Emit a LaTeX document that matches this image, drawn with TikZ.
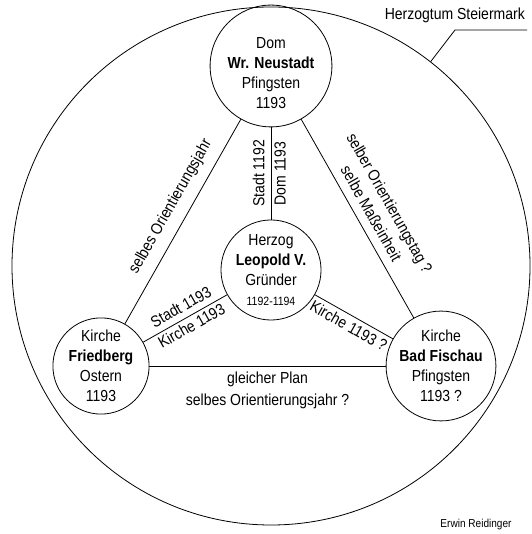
\documentclass[tikz,border=0pt]{standalone}
\usepackage{fontspec}
\setmainfont{Liberation Sans}[FakeStretch=0.875]

\begin{document}
\begin{tikzpicture}[
                place/.style={
                    circle,
                    draw,
                    line width=0.8pt,
                    minimum size=93pt,
                    inner sep=0pt,
                    align=center,
                    font=\fontsize{16}{20}\selectfont
                },
                link/.style={
                    line width=0.8pt
                },
                note/.style={
                    sloped,
                    align=center,
                    inner sep=3pt,
                    font=\fontsize{16}{21}\selectfont
                },
                x=1pt,
                y=1pt
            ]

        \useasboundingbox (0,0) rectangle (531,534);

        % Herzogtum
        \node[circle, draw, line width=0.8pt, minimum size=518pt, inner sep=0pt]
            (land) at (271,268) {};

        % Orte
        \node[place] (wn) at (271,468)
            {\rule{0pt}{25.5pt}Dom\\\textbf{Wr. Neustadt}\\Pfingsten\\1193};
        \node[place] (lp) at (271,264)
            {Herzog\\\textbf{Leopold V.}\\Gründer\\{\fontsize{12}{20}\selectfont 1192-1194}};
        \node[place] (fb) at (101,168)
            {Kirche\\\textbf{Friedberg}\\Ostern\\1193};
        \node[place] (bf) at (441,168)
            {Kirche\\\textbf{Bad Fischau}\\Pfingsten\\1193 ?};

        % Verbindungen
        \draw[link] (lp) -- node[note, above=3pt] {Stadt 1192}
                           node[note, below] {Dom 1193} (wn);
        \draw[link] (fb) -- node[note, above=7pt, pos=0.53] {selbes Orientierungsjahr} (wn);
        \draw[link] (wn) -- node[note, above=5.5pt, pos=0.51] {selber Orientierungstag ?\\selbe Maßeinheit} (bf);
        \draw[link] (fb) -- node[note, above=3pt, pos=0.52] {Stadt 1193}
                           node[note, below, pos=0.52] {Kirche 1193} (lp);
        \draw[link] (lp) -- node[note, below=1pt] {Kirche 1193 ?} (bf);
        \draw[link] (fb) -- node[note, below=3pt, font=\fontsize{16}{22}\selectfont]
                           {gleicher Plan\\selbes Orientierungsjahr ?} (bf);

        % Beschriftung
        \node[above left, inner xsep=2pt, inner ysep=6.5pt, font=\fontsize{16}{20}\selectfont]
            (duchy) at (527,504) {Herzogtum Steiermark};
        \coordinate (tip) at (land.52.3);
        \coordinate (knee) at (455,504);
        \draw[link] (tip) -- (knee) -- (duchy.south east);

        \node[font=\fontsize{11.5}{12}\selectfont] (author) at (476,9) {Erwin Reidinger};

\end{tikzpicture}
\end{document}
